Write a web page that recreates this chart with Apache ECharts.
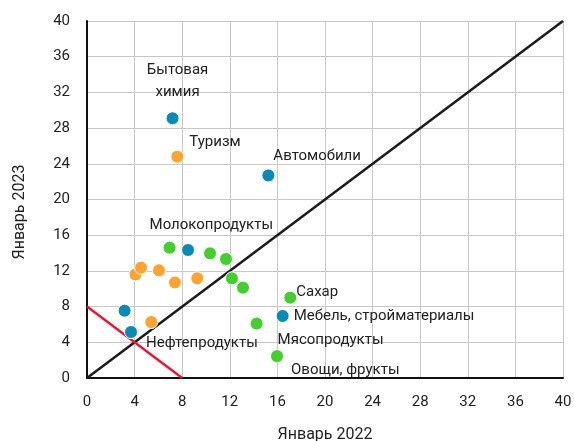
<!DOCTYPE html>
<html><head><meta charset="utf-8">
<script src="https://cdn.jsdelivr.net/npm/echarts@6/dist/echarts.min.js"></script>
<style>html,body{margin:0;padding:0;background:#fff;overflow:hidden}#c{width:574px;height:441px}</style>
</head><body><div id="c"></div>
<script>
// Data
const xTicks = [0,4,8,12,16,20,24,28,32,36,40];
const blueX = [7.19, 15.24, 8.49, 3.16, 3.70, 16.44];
const blueY = [29.1, 22.7, 14.34, 7.54, 5.15, 6.95];
const blueNames = ['Бытовая\nхимия', 'Автомобили', '', '', 'Нефтепродукты', 'Мебель, стройматериалы'];

const orangeX = [7.59, 4.08, 4.54, 6.05, 7.39, 9.27, 5.40];
const orangeY = [24.8, 11.6, 12.36, 12.07, 10.7, 11.17, 6.27];
const orangeNames = ['Туризм', '', '', '', '', '', ''];

const greenX = [6.94, 10.34, 11.68, 12.18, 13.11, 14.25, 15.97, 17.08];
const greenY = [14.6, 13.97, 13.33, 11.17, 10.12, 6.10, 2.45, 9.0];
const greenNames = ['Молокопродукты', '', '', '', '', 'Мясопродукты', 'Овощи, фрукты', 'Сахар'];

const diagX = [0, 40];
const diagY = [0, 40];
const redX = [0, 8];
const redY = [8, 0];

const xAxisTitle = 'Январь 2022';
const yAxisTitle = 'Январь 2023';

// label placement (styling)
const labelStyle = {
  'Бытовая\nхимия': {offset:[5,-37], align:'center', lineHeight:22},
  'Автомобили': {offset:[5,-19], align:'left'},
  'Нефтепродукты': {offset:[15,11], align:'left'},
  'Мебель, стройматериалы': {offset:[11,0], align:'left'},
  'Туризм': {offset:[12,-14], align:'left'},
  'Молокопродукты': {offset:[-20,-22], align:'left'},
  'Мясопродукты': {offset:[21,17], align:'left'},
  'Овощи, фрукты': {offset:[14,14], align:'left'},
  'Сахар': {offset:[6,-5], align:'left'}
};

const FONT = 'Roboto';
function pts(xs, ys, names) {
  return xs.map((x, i) => {
    const d = {value: [x, ys[i]], name: names[i]};
    const st = labelStyle[names[i]];
    if (st) {
      d.label = {show: true, position: 'inside', formatter: '{b}', offset: st.offset, align: st.align,
        verticalAlign: 'middle', lineHeight: st.lineHeight || 16, color: '#222', fontSize: 15, fontFamily: FONT};
    }
    return d;
  });
}
function scatter(xs, ys, names, color) {
  return {type: 'scatter', symbolSize: 13, z: 5,
    itemStyle: {color: color, borderColor: '#fff', borderWidth: 1, opacity: 1},
    data: pts(xs, ys, names), label: {show: false}};
}
function line(xs, ys, color) {
  return {type: 'line', symbol: 'none', z: 3, lineStyle: {color: color, width: 2.5},
    data: xs.map((x, i) => [x, ys[i]]), silent: true};
}

const chart = echarts.init(document.getElementById('c'));
chart.setOption({
  animation: false,
  grid: {left: 87, right: 11, top: 21, bottom: 63, containLabel: false, outerBoundsMode: 'none'},
  graphic: [{type: 'text', x: 20, y: 212, rotation: Math.PI / 2,
    style: {text: yAxisTitle, fontSize: 16, fontFamily: FONT, fill: '#222', align: 'center', verticalAlign: 'middle'}}],
  xAxis: {type: 'value', min: xTicks[0], max: xTicks[xTicks.length-1], interval: 4,
    name: xAxisTitle, nameLocation: 'middle', nameGap: 49,
    nameTextStyle: {fontSize: 16, color: '#222', fontFamily: FONT},
    axisLine: {show: true, lineStyle: {color: '#111', width: 2}},
    axisTick: {show: false},
    axisLabel: {fontSize: 15, color: '#222', fontFamily: FONT, margin: 17},
    splitLine: {show: true, lineStyle: {color: '#c8c8c8', width: 1}}},
  yAxis: {type: 'value', min: xTicks[0], max: xTicks[xTicks.length-1], interval: 4,
    axisLine: {show: true, lineStyle: {color: '#111', width: 2}},
    axisTick: {show: false},
    axisLabel: {fontSize: 15, color: '#222', fontFamily: FONT, margin: 17},
    splitLine: {show: true, lineStyle: {color: '#c8c8c8', width: 1}}},
  series: [
    line(diagX, diagY, '#1a1a1a'),
    line(redX, redY, '#e8173a'),
    scatter(blueX, blueY, blueNames, '#0a8ab5'),
    scatter(orangeX, orangeY, orangeNames, '#fba431'),
    scatter(greenX, greenY, greenNames, '#43cf2d')
  ]
});
</script></body></html>
